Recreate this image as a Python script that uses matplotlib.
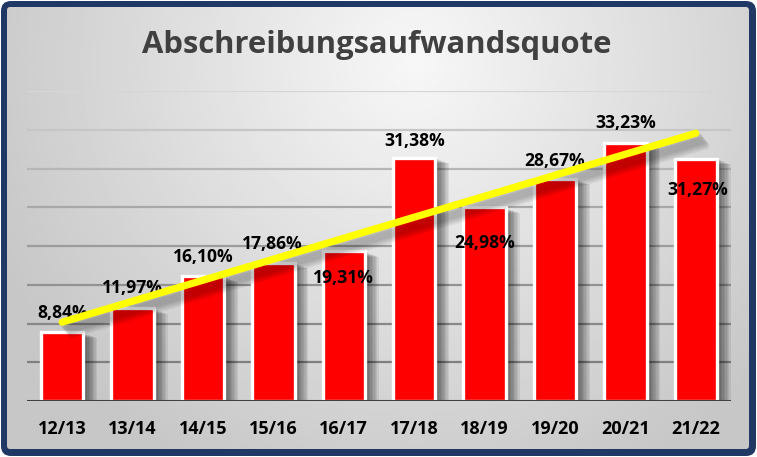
import numpy as np
import matplotlib
matplotlib.use("Agg")
import matplotlib.pyplot as plt
from matplotlib.patches import FancyBboxPatch
import matplotlib.patheffects as pe

plt.rcParams["font.family"] = ["Open Sans", "DejaVu Sans"]

TITLE = "Abschreibungsaufwandsquote"
YEARS = ["12/13", "13/14", "14/15", "15/16", "16/17",
         "17/18", "18/19", "19/20", "20/21", "21/22"]
QUOTE = [8.84, 11.97, 16.10, 17.86, 19.31, 31.38, 24.98, 28.67, 33.23, 31.27]
LABELS = ["8,84%", "11,97%", "16,10%", "17,86%", "19,31%",
          "31,38%", "24,98%", "28,67%", "33,23%", "31,27%"]
# label placement (pixels relative to bar top)
LBL_DY = [19, 20, 19, 19, -27, 17, -36, 18, 20, -31]
LBL_DX = [0, 0, 0, -1, 0, 0, 0, 0, 0, 2]

W, H = 757, 457
fig = plt.figure(figsize=(W / 100, H / 100), dpi=100, facecolor="white")

# ---- frame: navy rounded border + grey radial gradient ----
bg = fig.add_axes([0, 0, 1, 1])
bg.set_xlim(0, W); bg.set_ylim(0, H); bg.axis("off")
outer = FancyBboxPatch((1, 1), W - 2, H - 2, boxstyle="round,pad=0,rounding_size=10",
                       fc="#1F3864", ec="none", zorder=1)
bg.add_patch(outer)
inner = FancyBboxPatch((7, 8), W - 15, H - 15, boxstyle="round,pad=0,rounding_size=3",
                       fc="none", ec="none", zorder=1)
bg.add_patch(inner)
gx, gy = np.meshgrid(np.linspace(0, 1, 300), np.linspace(0, 1, 200))
r = np.sqrt(((gx - 0.55) / 0.62) ** 2 + ((gy - 0.12) / 1.05) ** 2)
grad = 0.97 - 0.19 * np.clip(r, 0, 1)
im = bg.imshow(grad, cmap="gray", vmin=0, vmax=1, extent=(7, W - 8, 8, H - 7),
               origin="upper", aspect="auto", interpolation="bilinear", zorder=2)
im.set_clip_path(inner)

# ---- chart ----
ax = fig.add_axes([27 / W, (H - 401) / H, 704 / W, 310 / H])
ax.patch.set_alpha(0)
x = np.arange(len(YEARS))
ax.set_xlim(-0.5, len(YEARS) - 0.5)
ax.set_ylim(0, 40)

grid_cols = ["#7F7F7F", "#888888", "#929292", "#9C9C9C",
             "#A8A8A8", "#B6B6B6", "#C6C6C6", "#D6D6D6"]
for i, c in enumerate(grid_cols):
    ax.axhline(5 * (i + 1), color=c, lw=1.6, zorder=1)
ax.axhline(0, color="#404040", lw=2.2, zorder=4)

shadow = [pe.SimplePatchShadow(offset=(d, -d * 0.4), shadow_rgbFace="black", alpha=0.07)
          for d in range(1, 11)]
bars = ax.bar(x, QUOTE, width=0.6, color="#FF0000", edgecolor="white", linewidth=2.4,
              zorder=3)
for b in bars:
    b.set_path_effects(shadow + [pe.Normal()])

for i, (v, t) in enumerate(zip(QUOTE, LABELS)):
    ax.annotate(t, (x[i], v), xytext=(LBL_DX[i], LBL_DY[i]), textcoords="offset pixels",
                ha="center", va="center", fontsize=12.6, fontweight="bold",
                color="black", zorder=5)

k, b0 = np.polyfit(x, QUOTE, 1)
trend = k * x + b0
line_sh = [pe.SimpleLineShadow(offset=(d * 0.8, -d), shadow_color="black", alpha=0.06)
           for d in range(2, 10)]
ax.plot(x, trend, color="#FFFF00", lw=5.2, solid_capstyle="round", zorder=6,
        path_effects=line_sh + [pe.Normal()])

ax.set_xticks(x)
ax.set_xticklabels(YEARS, fontsize=13, fontweight="bold", color="black")
ax.tick_params(axis="x", length=0, pad=14)
ax.set_yticks([])
for s in ax.spines.values():
    s.set_visible(False)

fig.text(377 / W, 1 - 45 / H, TITLE, ha="center", va="center", fontsize=22.3,
         fontweight="bold", color="#404040")

fig.savefig("out.png", dpi=100, facecolor="white")
